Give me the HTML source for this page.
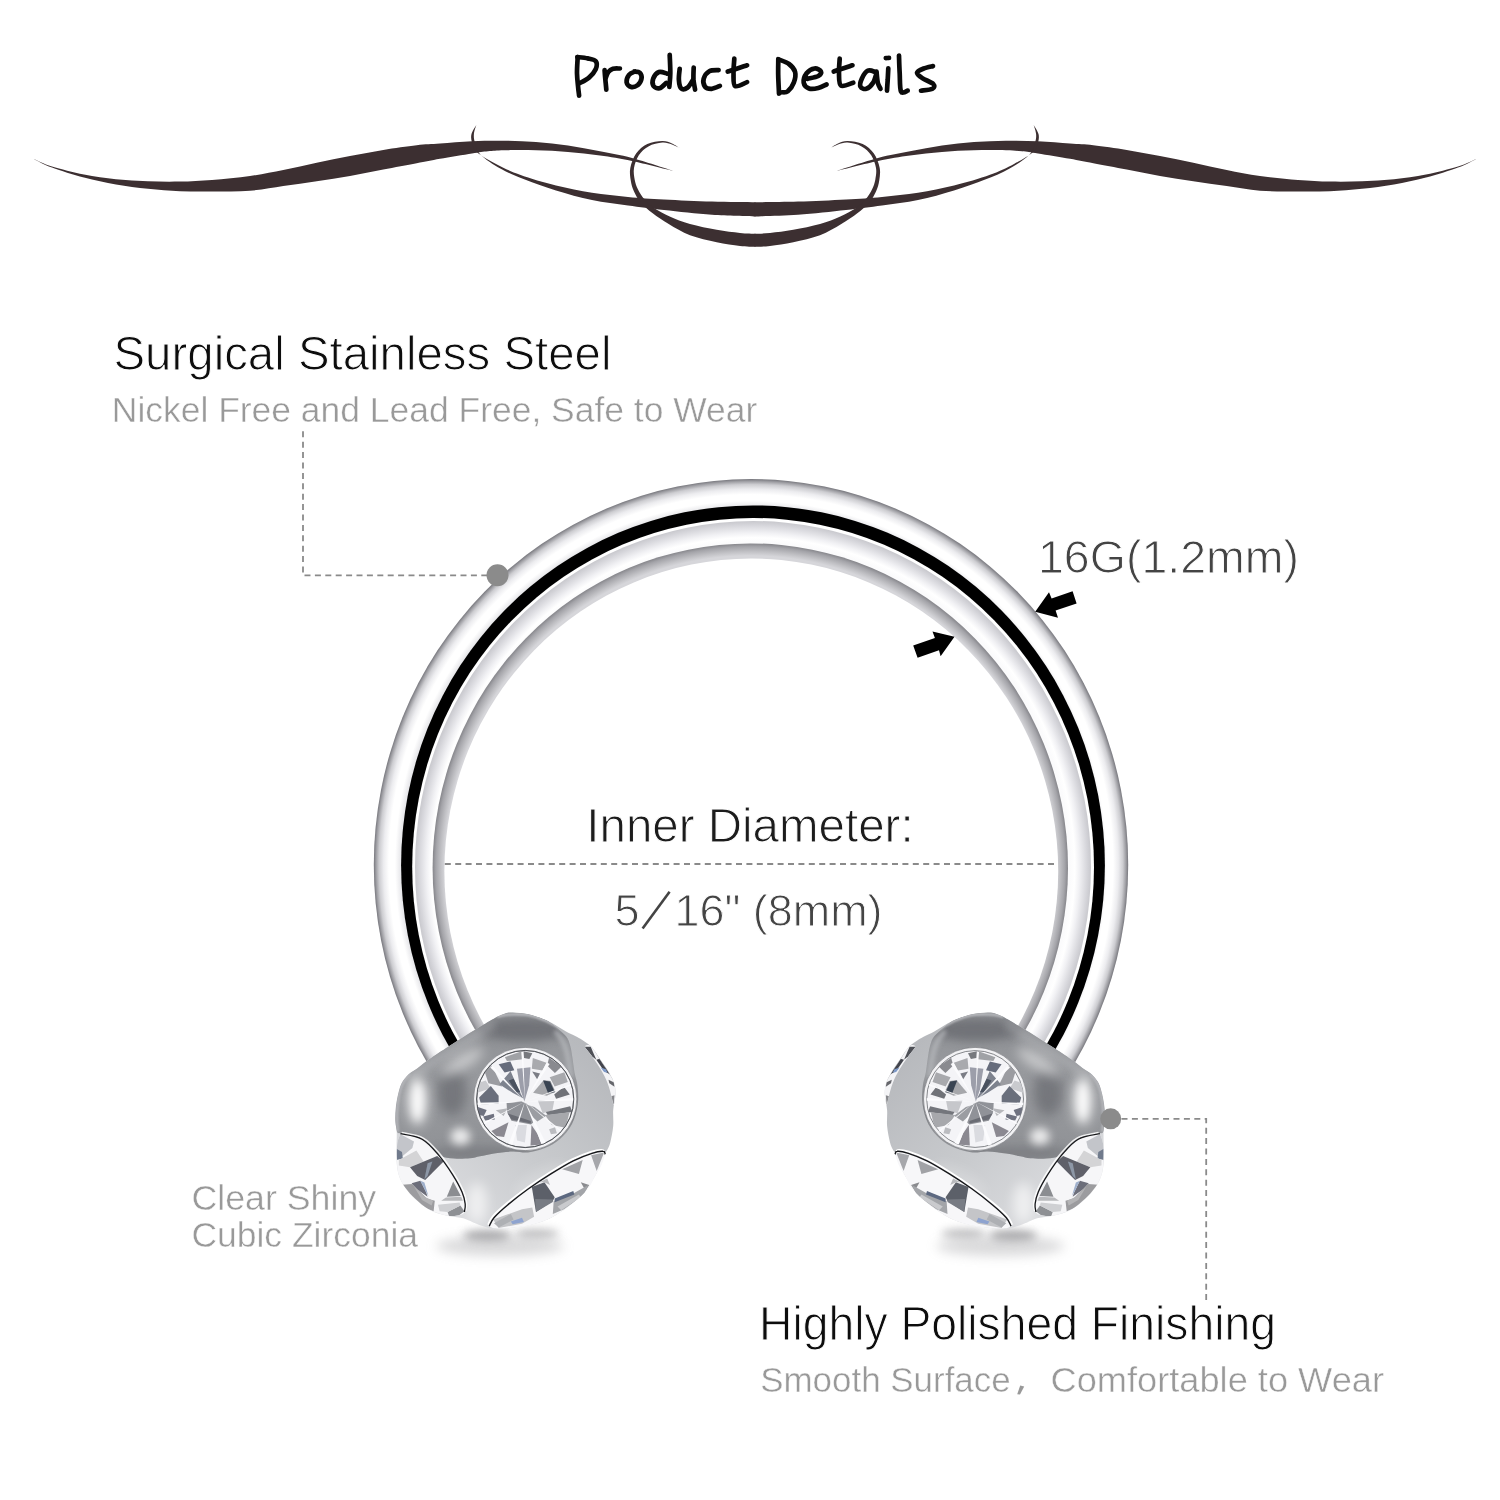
<!DOCTYPE html>
<html>
<head>
<meta charset="utf-8">
<title>Product Details</title>
<style>
html,body{margin:0;padding:0;background:#fff;}
body{width:1500px;height:1500px;overflow:hidden;position:relative;font-family:"Liberation Sans",sans-serif;}
svg{position:absolute;left:0;top:0;display:block;}
text{font-family:"Liberation Sans",sans-serif;}
</style>
</head>
<body>
<svg width="1500" height="1500" viewBox="0 0 1500 1500">
<defs>
  <filter id="blur1" x="-150%" y="-400%" width="400%" height="900%"><feGaussianBlur stdDeviation="1"/></filter>
  <filter id="blur05" x="-10%" y="-10%" width="120%" height="120%"><feGaussianBlur stdDeviation="0.45"/></filter>
  <filter id="blur2" x="-150%" y="-400%" width="400%" height="900%"><feGaussianBlur stdDeviation="2"/></filter>
  <filter id="blur4" x="-150%" y="-400%" width="400%" height="900%"><feGaussianBlur stdDeviation="4"/></filter>
  <filter id="blur6" x="-150%" y="-400%" width="400%" height="900%"><feGaussianBlur stdDeviation="6"/></filter>
  <radialGradient id="gOuter" cx="0.5" cy="0.5" r="0.5">
    <stop offset="0.930" stop-color="#e9e9ec"/>
    <stop offset="0.944" stop-color="#ffffff"/>
    <stop offset="0.960" stop-color="#ffffff"/>
    <stop offset="0.974" stop-color="#ececef"/>
    <stop offset="0.986" stop-color="#cdcdd1"/>
    <stop offset="0.994" stop-color="#a0a0a5"/>
    <stop offset="1" stop-color="#77777d"/>
  </radialGradient>
  <radialGradient id="gMid" cx="0.5" cy="0.5" r="0.5">
    <stop offset="0.938" stop-color="#fbfbfc"/>
    <stop offset="0.952" stop-color="#ffffff"/>
    <stop offset="0.966" stop-color="#f1f1f4"/>
    <stop offset="0.988" stop-color="#d6d6db"/>
    <stop offset="1" stop-color="#c8c8cd"/>
  </radialGradient>
  <radialGradient id="gIn" cx="0.5" cy="0.5" r="0.5">
    <stop offset="0.962" stop-color="#d6d6da"/>
    <stop offset="0.975" stop-color="#c0c0c4"/>
    <stop offset="0.990" stop-color="#a4a4a9"/>
    <stop offset="1" stop-color="#86868b"/>
  </radialGradient>
  <linearGradient id="gBand" gradientUnits="userSpaceOnUse" x1="440" y1="1220" x2="610" y2="1040">
    <stop offset="0" stop-color="#dddee1"/>
    <stop offset="0.45" stop-color="#c8cacd"/>
    <stop offset="1" stop-color="#b4b6ba"/>
  </linearGradient>
  <linearGradient id="gCap" gradientUnits="userSpaceOnUse" x1="470" y1="1010" x2="490" y2="1160">
    <stop offset="0" stop-color="#8a8c90"/>
    <stop offset="0.5" stop-color="#999b9f"/>
    <stop offset="1" stop-color="#8d8f93"/>
  </linearGradient>
  <clipPath id="ringClip">
    <path d="M751,865 L169,1245 L0,1245 L0,0 L1500,0 L1500,1245 L1333,1245 Z"/>
  </clipPath>
<clipPath id="ballClip"><path d="M512.7,1012.6 C516.7,1012.7 523.4,1013.1 528.7,1014.2 C534.0,1015.4 540.3,1017.7 544.7,1019.5 C549.1,1021.3 551.8,1023.0 555.3,1025.0 C558.8,1027.0 562.4,1029.6 566.0,1031.6 C569.6,1033.6 573.6,1035.1 576.7,1036.8 C579.8,1038.5 582.0,1039.8 584.5,1041.6 C587.0,1043.4 589.3,1044.4 592.0,1047.5 C594.7,1050.6 597.8,1055.8 600.7,1060.0 C603.6,1064.2 607.0,1069.0 609.3,1073.0 C611.6,1077.0 613.3,1080.3 614.3,1084.0 C615.3,1087.7 615.6,1090.7 615.4,1095.0 C615.2,1099.3 613.6,1104.8 613.2,1110.0 C612.8,1115.2 613.7,1120.7 613.2,1126.0 C612.7,1131.3 611.4,1138.0 610.4,1142.0 C609.4,1146.0 608.3,1147.9 607.2,1150.0 C606.1,1152.1 605.2,1151.8 604.0,1154.5 C602.8,1157.2 601.3,1162.8 600.0,1166.0 C598.7,1169.2 597.7,1170.9 596.0,1174.0 C594.3,1177.1 592.3,1180.8 589.6,1184.5 C586.9,1188.2 583.9,1192.5 580.0,1196.5 C576.1,1200.5 570.7,1204.8 566.0,1208.3 C561.3,1211.8 556.7,1214.8 552.0,1217.2 C547.3,1219.6 543.3,1221.2 538.0,1222.8 C532.7,1224.4 525.7,1225.6 520.0,1226.6 C514.3,1227.6 508.7,1228.3 504.0,1228.6 C499.3,1228.9 495.3,1228.9 492.0,1228.6 C488.7,1228.3 487.1,1227.6 484.0,1226.6 C480.9,1225.6 476.8,1223.9 473.3,1222.5 C469.9,1221.1 467.2,1219.3 463.3,1218.3 C459.4,1217.3 454.8,1217.3 450.0,1216.3 C445.2,1215.3 439.1,1213.9 434.8,1212.3 C430.5,1210.7 428.1,1209.3 424.4,1206.6 C420.7,1203.9 416.0,1200.0 412.4,1196.2 C408.8,1192.4 405.2,1188.0 402.8,1184.0 C400.4,1180.0 399.0,1176.0 398.0,1172.0 C397.0,1168.0 396.8,1164.3 396.6,1160.0 C396.4,1155.7 396.6,1150.8 396.6,1146.0 C396.6,1141.2 396.9,1135.3 396.7,1131.3 C396.5,1127.3 395.5,1125.9 395.3,1122.0 C395.1,1118.1 395.2,1112.7 395.7,1108.0 C396.2,1103.3 397.1,1098.2 398.1,1094.0 C399.1,1089.8 400.1,1086.1 401.8,1082.8 C403.5,1079.5 405.7,1076.9 408.3,1074.4 C410.9,1071.9 414.2,1070.4 417.7,1067.9 C421.1,1065.4 423.9,1062.8 429.0,1059.2 C434.1,1055.6 442.2,1050.4 448.4,1046.4 C454.6,1042.4 460.4,1038.7 466.0,1035.2 C471.6,1031.7 478.0,1028.0 482.0,1025.6 C486.0,1023.2 487.3,1022.4 490.0,1020.8 C492.7,1019.2 495.5,1017.4 498.0,1016.2 C500.5,1015.0 502.6,1014.0 505.0,1013.4 C507.4,1012.8 508.8,1012.5 512.7,1012.6 Z"/></clipPath>
<clipPath id="capClip"><path d="M512.7,1012.6 C516.7,1012.7 523.4,1013.1 528.7,1014.2 C534.0,1015.4 540.3,1017.4 544.7,1019.5 C549.1,1021.6 551.8,1023.9 555.3,1026.7 C558.8,1029.5 563.5,1033.1 566.0,1036.3 C568.5,1039.5 569.2,1042.2 570.3,1045.9 C571.4,1049.6 571.9,1054.3 572.6,1058.7 C573.3,1063.1 573.7,1068.0 574.5,1072.5 C575.3,1077.0 577.0,1080.8 577.5,1086.0 C578.0,1091.2 578.7,1097.7 577.8,1104.0 C576.9,1110.3 575.0,1118.2 572.0,1124.0 C569.0,1129.8 564.5,1135.0 560.0,1139.0 C555.5,1143.0 550.3,1145.8 545.0,1148.0 C539.7,1150.2 533.4,1151.9 528.0,1152.5 C522.6,1153.1 518.4,1151.3 512.7,1151.5 C507.0,1151.7 499.4,1152.7 494.0,1153.5 C488.6,1154.3 484.0,1155.5 480.0,1156.3 C476.0,1157.1 474.3,1157.9 470.0,1158.3 C465.7,1158.7 459.1,1159.1 454.0,1158.6 C448.9,1158.1 443.9,1157.7 439.6,1155.4 C435.3,1153.1 432.1,1148.1 428.0,1145.0 C423.9,1141.9 419.0,1139.0 415.0,1137.0 C411.0,1135.0 406.9,1133.8 404.0,1133.0 C401.1,1132.2 398.8,1134.3 397.4,1132.5 C395.9,1130.7 395.6,1126.1 395.3,1122.0 C395.0,1117.9 395.2,1112.7 395.7,1108.0 C396.2,1103.3 397.1,1098.2 398.1,1094.0 C399.1,1089.8 400.1,1086.1 401.8,1082.8 C403.5,1079.5 405.7,1076.9 408.3,1074.4 C410.9,1071.9 414.2,1070.4 417.7,1067.9 C421.1,1065.4 423.9,1062.8 429.0,1059.2 C434.1,1055.6 442.2,1050.4 448.4,1046.4 C454.6,1042.4 460.4,1038.7 466.0,1035.2 C471.6,1031.7 478.0,1028.0 482.0,1025.6 C486.0,1023.2 487.3,1022.4 490.0,1020.8 C492.7,1019.2 495.5,1017.4 498.0,1016.2 C500.5,1015.0 502.6,1014.0 505.0,1013.4 C507.4,1012.8 508.8,1012.5 512.7,1012.6 Z"/></clipPath>

</defs>

<g id="swashL" fill="#3c2f31">
<path d="M33.6,158.9 C36.7,160.2 43.6,163.8 52.0,166.4 C60.4,169.0 73.3,172.3 84.0,174.4 C94.7,176.5 105.3,178.0 116.0,179.2 C126.7,180.3 137.3,180.9 148.0,181.3 C158.7,181.7 169.3,181.8 180.0,181.6 C190.7,181.4 200.3,180.9 212.0,180.0 C223.7,179.1 238.1,177.7 250.0,176.0 C261.9,174.3 272.2,172.2 283.3,170.0 C294.4,167.8 305.6,165.0 316.7,162.7 C327.8,160.4 338.9,158.1 350.0,156.0 C361.1,153.9 372.2,151.8 383.3,150.0 C394.4,148.2 407.2,146.4 416.7,145.3 C426.1,144.2 430.8,144.3 440.0,143.6 C449.2,142.9 461.3,141.7 472.0,141.2 C482.7,140.7 493.3,140.6 504.0,140.7 C514.7,140.8 525.3,141.2 536.0,142.0 C546.7,142.8 557.3,143.9 568.0,145.5 C578.7,147.1 589.3,149.2 600.0,151.3 C610.7,153.4 619.8,154.8 632.0,158.0 C644.2,161.2 666.2,168.7 673.0,170.8 C666.2,169.2 644.2,163.4 632.0,160.9 C619.8,158.4 610.7,157.1 600.0,155.6 C589.3,154.1 578.7,152.8 568.0,151.9 C557.3,151.0 546.7,150.6 536.0,150.3 C525.3,150.0 512.0,150.1 504.0,150.3 C496.0,150.5 493.3,150.8 488.0,151.3 C482.7,151.8 480.0,152.2 472.0,153.5 C464.0,154.8 449.2,157.2 440.0,158.8 C430.8,160.4 426.1,161.5 416.7,163.3 C407.2,165.1 394.4,167.5 383.3,169.6 C372.2,171.7 361.1,174.1 350.0,176.0 C338.9,177.9 327.8,179.6 316.7,181.3 C305.6,183.0 294.4,184.4 283.3,186.0 C272.2,187.6 261.9,189.8 250.0,190.7 C238.1,191.6 223.7,191.4 212.0,191.5 C200.3,191.6 190.7,191.6 180.0,191.2 C169.3,190.8 158.7,189.9 148.0,188.8 C137.3,187.7 126.7,186.4 116.0,184.5 C105.3,182.6 94.7,180.4 84.0,177.6 C73.3,174.8 60.4,170.6 52.0,167.5 C43.6,164.4 36.7,160.3 33.6,158.9 Z"/>
<path d="M476.3,124.9 C475.5,126.4 472.2,131.1 471.5,134.0 C470.8,136.9 471.1,139.4 472.0,142.4 C472.9,145.4 472.8,148.4 476.8,152.0 C480.8,155.6 488.8,160.2 496.0,164.0 C503.2,167.8 510.0,171.2 520.0,174.8 C530.0,178.4 544.0,182.6 556.0,185.6 C568.0,188.6 580.0,190.9 592.0,192.8 C604.0,194.7 616.0,195.8 628.0,196.9 C640.0,198.0 650.0,198.7 664.0,199.5 C678.0,200.3 696.8,201.1 712.0,201.6 C727.2,202.1 748.2,202.2 755.5,202.3 L755.5,216.5 C748.2,216.2 727.2,215.9 712.0,214.8 C696.8,213.7 678.0,211.6 664.0,210.0 C650.0,208.4 640.0,207.2 628.0,205.5 C616.0,203.8 604.0,202.5 592.0,200.0 C580.0,197.5 567.2,193.8 556.0,190.4 C544.8,187.0 534.0,183.2 524.8,179.6 C515.6,176.0 508.2,173.0 500.8,168.8 C493.4,164.6 484.7,158.8 480.4,154.4 C476.1,150.0 476.0,145.8 474.9,142.4 C473.8,139.0 473.7,136.9 473.9,134.0 C474.1,131.1 475.9,126.4 476.3,124.9 Z"/>
<path d="M679.9,148.3 C678.6,147.5 674.9,144.6 672.0,143.4 C669.1,142.2 666.4,140.9 662.3,141.0 C658.2,141.1 651.7,141.9 647.3,144.0 C642.9,146.1 638.9,149.6 636.1,153.6 C633.3,157.6 631.2,163.5 630.3,168.0 C629.4,172.5 630.2,176.9 630.8,180.8 C631.4,184.7 632.3,187.8 634.0,191.5 C635.7,195.2 637.8,199.1 640.9,202.7 C644.0,206.3 648.1,209.8 652.7,213.3 C657.3,216.9 662.5,220.3 668.7,224.0 C674.9,227.7 682.0,232.2 690.0,235.2 C698.0,238.2 708.4,240.4 716.7,242.2 C725.0,244.0 733.5,245.2 740.0,246.0 C746.5,246.8 752.9,246.7 755.5,246.8 L755.5,233.8 C752.9,233.7 746.5,233.7 740.0,233.0 C733.5,232.3 725.0,231.3 716.7,229.8 C708.4,228.3 697.8,226.2 690.0,224.0 C682.2,221.8 675.6,219.1 669.7,216.5 C663.8,213.9 659.1,211.4 654.8,208.5 C650.5,205.6 646.9,202.1 644.1,198.9 C641.3,195.7 639.5,192.5 637.9,189.3 C636.3,186.1 635.4,183.2 634.7,179.7 C634.1,176.1 633.3,172.1 634.0,168.0 C634.7,163.9 636.4,158.8 638.8,155.2 C641.2,151.6 644.5,148.5 648.4,146.4 C652.3,144.3 658.4,142.9 662.3,142.6 C666.2,142.3 669.1,143.6 672.0,144.6 C674.9,145.6 678.6,147.7 679.9,148.3 Z"/>
</g>
<use href="#swashL" transform="translate(1510.0,0) scale(-1,1)"/>
<g fill="none" stroke="#0a0a0a" stroke-width="4.7" stroke-linecap="round" stroke-linejoin="round">
<path d="M577.7,57.1 C577.6,59.8 576.9,68.4 577.0,73.3 C577.1,78.3 577.7,82.9 578.1,86.7 C578.4,90.4 579.0,94.2 579.1,95.7"/>
<path d="M577.3,57.1 C579.0,57.3 584.6,57.7 587.7,58.4 C590.8,59.1 594.6,59.5 595.9,61.3 C597.3,63.2 596.8,66.6 595.7,69.3 C594.5,72.0 591.7,75.3 589.0,77.6 C586.3,79.9 581.0,82.4 579.4,83.3"/>
<path d="M604.6,70.1 C604.7,71.8 605.1,76.8 605.4,80.0 C605.7,83.2 606.2,88.0 606.3,89.6"/>
<path d="M605.7,78.0 C606.1,77.0 607.1,73.5 608.3,72.0 C609.6,70.5 611.1,69.4 613.0,68.8 C614.9,68.2 618.8,68.6 619.9,68.5"/>
<path d="M635.0,71.5 C634.0,72.0 630.4,73.1 629.0,74.9 C627.6,76.8 626.3,80.4 626.6,82.4 C626.9,84.4 629.2,86.5 631.0,86.9 C632.8,87.4 635.9,86.4 637.7,85.1 C639.4,83.7 641.2,80.7 641.5,78.7 C641.9,76.6 640.9,73.9 639.7,72.7 C638.5,71.5 635.2,71.7 634.3,71.5"/>
<path d="M667.0,73.6 C665.7,73.3 661.3,71.2 659.0,72.0 C656.7,72.8 654.2,76.1 653.3,78.4 C652.4,80.7 652.5,84.4 653.5,86.0 C654.6,87.6 657.3,88.8 659.4,88.3 C661.5,87.8 665.2,83.8 666.3,82.9"/>
<path d="M669.7,54.9 C669.8,58.0 670.4,68.0 670.3,73.3 C670.3,78.7 669.4,84.7 669.3,86.9"/>
<path d="M679.7,68.8 C679.5,70.7 678.6,76.7 678.9,80.0 C679.1,83.3 679.8,87.3 681.3,88.5 C682.7,89.8 685.7,88.9 687.7,87.5 C689.6,86.0 692.1,81.2 693.0,80.0"/>
<path d="M693.7,67.5 C693.6,69.6 693.3,76.3 693.5,80.0 C693.8,83.7 694.9,88.0 695.1,89.6"/>
<path d="M718.6,70.1 C717.0,70.3 711.8,69.8 709.3,71.2 C706.8,72.6 704.4,76.1 703.7,78.7 C703.0,81.2 703.7,85.0 705.0,86.7 C706.3,88.4 709.2,88.9 711.7,88.8 C714.2,88.7 718.6,86.4 719.9,85.9"/>
<path d="M734.3,58.7 C734.2,61.1 733.4,68.8 733.5,73.3 C733.7,77.9 732.9,84.7 735.1,86.1 C737.4,87.6 745.1,82.8 747.1,82.1"/>
<path d="M727.7,71.5 C730.9,70.4 743.9,66.4 747.1,65.3"/>
<path d="M778.3,59.3 C778.3,61.9 778.1,69.0 778.2,74.7 C778.3,80.4 778.9,90.4 779.0,93.6"/>
<path d="M778.3,59.3 C780.1,60.1 786.2,61.9 789.0,64.0 C791.8,66.1 794.3,68.9 795.1,72.0 C795.9,75.1 795.0,79.5 793.8,82.7 C792.6,85.9 789.9,89.6 787.9,91.2 C786.0,92.8 783.0,92.1 782.1,92.3"/>
<path d="M807.4,78.9 C809.2,78.4 816.1,77.2 818.3,76.0 C820.6,74.8 821.6,72.7 821.0,71.5 C820.4,70.2 817.0,68.2 814.6,68.5 C812.2,68.8 808.4,71.0 806.6,73.3 C804.8,75.7 803.3,80.1 803.7,82.7 C804.1,85.2 806.6,87.6 809.0,88.5 C811.4,89.4 815.4,88.7 818.3,88.0 C821.3,87.3 825.2,85.1 826.6,84.5"/>
<path d="M839.7,58.7 C839.6,61.1 838.8,68.8 839.0,73.3 C839.2,77.8 838.6,84.0 841.0,85.6 C843.4,87.2 851.2,83.2 853.3,82.7"/>
<path d="M833.7,71.5 C836.8,70.4 849.3,66.4 852.5,65.3"/>
<path d="M875.9,72.3 C874.6,72.0 870.3,69.6 867.9,70.7 C865.6,71.7 863.0,76.0 861.8,78.7 C860.6,81.3 859.7,85.0 860.5,86.7 C861.2,88.4 864.2,89.4 866.3,88.8 C868.4,88.2 871.3,85.5 873.0,82.9 C874.7,80.4 875.9,74.9 876.5,73.3"/>
<path d="M876.5,71.5 C876.7,73.3 877.1,79.8 877.8,82.7 C878.5,85.6 880.0,87.8 880.5,88.8"/>
<path d="M888.3,68.3 C888.2,70.2 887.9,76.3 887.7,80.0 C887.4,83.7 887.1,88.9 887.0,90.7"/>
<path d="M885.8,58.1 C886.3,58.1 888.5,57.9 889.0,57.9"/>
<path d="M899.0,55.5 C899.1,58.4 899.3,67.3 899.7,73.3 C900.0,79.3 899.7,88.6 901.0,91.5 C902.3,94.4 906.6,90.8 907.7,90.7"/>
<path d="M933.0,66.1 C931.4,66.5 926.3,67.4 923.7,68.5 C921.0,69.6 917.2,71.2 917.0,72.8 C916.8,74.4 919.6,76.3 922.3,78.1 C925.0,80.0 931.6,82.2 933.3,84.0 C935.0,85.8 934.5,87.7 932.5,88.8 C930.4,89.9 922.9,90.4 921.0,90.7"/>
</g>

<!-- RING -->
<g id="ring" clip-path="url(#ringClip)">
  <ellipse cx="751" cy="864.9" rx="377.2" ry="385.8" fill="url(#gOuter)"/>
  <ellipse cx="753" cy="865.3" rx="351.9" ry="359.9" fill="#000"/>
  <ellipse cx="753.1" cy="867" rx="340.9" ry="349" fill="#fff"/>
  <ellipse cx="753" cy="867" rx="338" ry="346" fill="url(#gMid)"/>
  <ellipse cx="750.3" cy="867.8" rx="317.7" ry="324.4" fill="url(#gIn)"/>
</g>
<ellipse cx="751.3" cy="871.2" rx="306.9" ry="312.6" fill="#fff"/>

<!-- BALLS -->
<g id="ballL">
<ellipse cx="487" cy="1235.5" rx="24" ry="5.5" fill="#8e8e91" opacity="0.75" filter="url(#blur4)"/>
<ellipse cx="537" cy="1233.5" rx="22" ry="4.5" fill="#9c9c9f" opacity="0.65" filter="url(#blur4)"/>
<ellipse cx="500" cy="1246" rx="64" ry="10" fill="#a6a6a9" opacity="0.42" filter="url(#blur6)"/>
<path d="M512.7,1012.6 C516.7,1012.7 523.4,1013.1 528.7,1014.2 C534.0,1015.4 540.3,1017.7 544.7,1019.5 C549.1,1021.3 551.8,1023.0 555.3,1025.0 C558.8,1027.0 562.4,1029.6 566.0,1031.6 C569.6,1033.6 573.6,1035.1 576.7,1036.8 C579.8,1038.5 582.0,1039.8 584.5,1041.6 C587.0,1043.4 589.3,1044.4 592.0,1047.5 C594.7,1050.6 597.8,1055.8 600.7,1060.0 C603.6,1064.2 607.0,1069.0 609.3,1073.0 C611.6,1077.0 613.3,1080.3 614.3,1084.0 C615.3,1087.7 615.6,1090.7 615.4,1095.0 C615.2,1099.3 613.6,1104.8 613.2,1110.0 C612.8,1115.2 613.7,1120.7 613.2,1126.0 C612.7,1131.3 611.4,1138.0 610.4,1142.0 C609.4,1146.0 608.3,1147.9 607.2,1150.0 C606.1,1152.1 605.2,1151.8 604.0,1154.5 C602.8,1157.2 601.3,1162.8 600.0,1166.0 C598.7,1169.2 597.7,1170.9 596.0,1174.0 C594.3,1177.1 592.3,1180.8 589.6,1184.5 C586.9,1188.2 583.9,1192.5 580.0,1196.5 C576.1,1200.5 570.7,1204.8 566.0,1208.3 C561.3,1211.8 556.7,1214.8 552.0,1217.2 C547.3,1219.6 543.3,1221.2 538.0,1222.8 C532.7,1224.4 525.7,1225.6 520.0,1226.6 C514.3,1227.6 508.7,1228.3 504.0,1228.6 C499.3,1228.9 495.3,1228.9 492.0,1228.6 C488.7,1228.3 487.1,1227.6 484.0,1226.6 C480.9,1225.6 476.8,1223.9 473.3,1222.5 C469.9,1221.1 467.2,1219.3 463.3,1218.3 C459.4,1217.3 454.8,1217.3 450.0,1216.3 C445.2,1215.3 439.1,1213.9 434.8,1212.3 C430.5,1210.7 428.1,1209.3 424.4,1206.6 C420.7,1203.9 416.0,1200.0 412.4,1196.2 C408.8,1192.4 405.2,1188.0 402.8,1184.0 C400.4,1180.0 399.0,1176.0 398.0,1172.0 C397.0,1168.0 396.8,1164.3 396.6,1160.0 C396.4,1155.7 396.6,1150.8 396.6,1146.0 C396.6,1141.2 396.9,1135.3 396.7,1131.3 C396.5,1127.3 395.5,1125.9 395.3,1122.0 C395.1,1118.1 395.2,1112.7 395.7,1108.0 C396.2,1103.3 397.1,1098.2 398.1,1094.0 C399.1,1089.8 400.1,1086.1 401.8,1082.8 C403.5,1079.5 405.7,1076.9 408.3,1074.4 C410.9,1071.9 414.2,1070.4 417.7,1067.9 C421.1,1065.4 423.9,1062.8 429.0,1059.2 C434.1,1055.6 442.2,1050.4 448.4,1046.4 C454.6,1042.4 460.4,1038.7 466.0,1035.2 C471.6,1031.7 478.0,1028.0 482.0,1025.6 C486.0,1023.2 487.3,1022.4 490.0,1020.8 C492.7,1019.2 495.5,1017.4 498.0,1016.2 C500.5,1015.0 502.6,1014.0 505.0,1013.4 C507.4,1012.8 508.8,1012.5 512.7,1012.6 Z" fill="url(#gBand)"/>
<g clip-path="url(#ballClip)">
<path d="M512.7,1012.6 C516.7,1012.7 523.4,1013.1 528.7,1014.2 C534.0,1015.4 540.3,1017.4 544.7,1019.5 C549.1,1021.6 551.8,1023.9 555.3,1026.7 C558.8,1029.5 563.5,1033.1 566.0,1036.3 C568.5,1039.5 569.2,1042.2 570.3,1045.9 C571.4,1049.6 571.9,1054.3 572.6,1058.7 C573.3,1063.1 573.7,1068.0 574.5,1072.5 C575.3,1077.0 577.0,1080.8 577.5,1086.0 C578.0,1091.2 578.7,1097.7 577.8,1104.0 C576.9,1110.3 575.0,1118.2 572.0,1124.0 C569.0,1129.8 564.5,1135.0 560.0,1139.0 C555.5,1143.0 550.3,1145.8 545.0,1148.0 C539.7,1150.2 533.4,1151.9 528.0,1152.5 C522.6,1153.1 518.4,1151.3 512.7,1151.5 C507.0,1151.7 499.4,1152.7 494.0,1153.5 C488.6,1154.3 484.0,1155.5 480.0,1156.3 C476.0,1157.1 474.3,1157.9 470.0,1158.3 C465.7,1158.7 459.1,1159.1 454.0,1158.6 C448.9,1158.1 443.9,1157.7 439.6,1155.4 C435.3,1153.1 432.1,1148.1 428.0,1145.0 C423.9,1141.9 419.0,1139.0 415.0,1137.0 C411.0,1135.0 406.9,1133.8 404.0,1133.0 C401.1,1132.2 398.8,1134.3 397.4,1132.5 C395.9,1130.7 395.6,1126.1 395.3,1122.0 C395.0,1117.9 395.2,1112.7 395.7,1108.0 C396.2,1103.3 397.1,1098.2 398.1,1094.0 C399.1,1089.8 400.1,1086.1 401.8,1082.8 C403.5,1079.5 405.7,1076.9 408.3,1074.4 C410.9,1071.9 414.2,1070.4 417.7,1067.9 C421.1,1065.4 423.9,1062.8 429.0,1059.2 C434.1,1055.6 442.2,1050.4 448.4,1046.4 C454.6,1042.4 460.4,1038.7 466.0,1035.2 C471.6,1031.7 478.0,1028.0 482.0,1025.6 C486.0,1023.2 487.3,1022.4 490.0,1020.8 C492.7,1019.2 495.5,1017.4 498.0,1016.2 C500.5,1015.0 502.6,1014.0 505.0,1013.4 C507.4,1012.8 508.8,1012.5 512.7,1012.6 Z" fill="url(#gCap)"/>
<g clip-path="url(#capClip)">
<ellipse cx="524" cy="1030" rx="46" ry="11" fill="#5f6166" opacity="0.62" filter="url(#blur4)"/>
<ellipse cx="452" cy="1092" rx="15" ry="24" fill="#63656b" opacity="0.65" filter="url(#blur6)"/>
<path d="M555,1031 C565,1040 569,1054 570.5,1078" stroke="#b9bbbf" stroke-width="5" fill="none" opacity="0.75" filter="url(#blur2)"/>
<ellipse cx="573" cy="1105" rx="6" ry="22" fill="#696b70" opacity="0.5" filter="url(#blur4)"/>
<ellipse cx="478" cy="1153" rx="50" ry="7" fill="#6f7176" opacity="0.5" filter="url(#blur4)"/>
<path d="M409,1080 C420,1068 450,1052 494,1024" stroke="#d4d5d8" stroke-width="8" fill="none" opacity="0.35" filter="url(#blur4)"/>
<ellipse cx="417.5" cy="1101" rx="12" ry="27" fill="#ffffff" opacity="0.4" filter="url(#blur6)"/>
<ellipse cx="417.5" cy="1101" rx="6.5" ry="20" fill="#ffffff" opacity="0.95" filter="url(#blur4)"/>
<ellipse cx="460.5" cy="1136.5" rx="10" ry="8.5" fill="#ffffff" opacity="0.8" filter="url(#blur4)"/>
<ellipse cx="462" cy="1062" rx="25" ry="7" fill="#ffffff" opacity="0.5" filter="url(#blur6)" transform="rotate(-32 462 1062)"/>
<path d="M497,1016.8 C505,1014.2 520,1013.6 529,1015 C540,1017 552,1022.6 566,1032.4" stroke="#c6c7cb" stroke-width="2.4" fill="none" opacity="0.9" filter="url(#blur1)"/>
<path d="M398,1132 C396.4,1122 396.6,1108 399,1094 C401,1086 405,1078 410,1074" stroke="#c2c3c7" stroke-width="2.2" fill="none" opacity="0.8" filter="url(#blur1)"/>
</g>
<ellipse cx="477" cy="1203" rx="10" ry="20" fill="#ffffff" opacity="0.6" filter="url(#blur6)"/>
<ellipse cx="540" cy="1180" rx="30" ry="10" fill="#ffffff" opacity="0.18" filter="url(#blur6)" transform="rotate(-30 540 1180)"/>
</g>
<clipPath id="lgClip"><path d="M400.4,1133.6 C404.0,1134.5 415.7,1135.7 422.0,1139.2 C428.3,1142.7 432.9,1148.5 438.0,1154.4 C443.1,1160.3 448.4,1168.1 452.4,1174.4 C456.4,1180.7 459.9,1187.1 462.0,1192.0 C464.1,1196.9 464.8,1200.7 465.2,1204.0 C465.6,1207.3 464.5,1210.7 464.4,1212.0 C464.0,1212.4 464.4,1213.7 462.0,1214.4 C459.6,1215.1 454.5,1216.4 450.0,1216.0 C445.5,1215.6 439.1,1213.6 434.8,1212.0 C430.5,1210.4 428.1,1209.1 424.4,1206.4 C420.7,1203.7 416.0,1199.7 412.4,1196.0 C408.8,1192.3 405.2,1188.0 402.8,1184.0 C400.4,1180.0 399.0,1176.0 398.0,1172.0 C397.0,1168.0 397.2,1164.7 397.0,1160.0 C396.9,1155.3 396.6,1148.4 397.2,1144.0 C397.8,1139.6 399.9,1135.3 400.4,1133.6 Z"/></clipPath>
<path d="M400.4,1133.6 C404.0,1134.5 415.7,1135.7 422.0,1139.2 C428.3,1142.7 432.9,1148.5 438.0,1154.4 C443.1,1160.3 448.4,1168.1 452.4,1174.4 C456.4,1180.7 459.9,1187.1 462.0,1192.0 C464.1,1196.9 464.8,1200.7 465.2,1204.0 C465.6,1207.3 464.5,1210.7 464.4,1212.0 C464.0,1212.4 464.4,1213.7 462.0,1214.4 C459.6,1215.1 454.5,1216.4 450.0,1216.0 C445.5,1215.6 439.1,1213.6 434.8,1212.0 C430.5,1210.4 428.1,1209.1 424.4,1206.4 C420.7,1203.7 416.0,1199.7 412.4,1196.0 C408.8,1192.3 405.2,1188.0 402.8,1184.0 C400.4,1180.0 399.0,1176.0 398.0,1172.0 C397.0,1168.0 397.2,1164.7 397.0,1160.0 C396.9,1155.3 396.6,1148.4 397.2,1144.0 C397.8,1139.6 399.9,1135.3 400.4,1133.6 Z" fill="#f6f6f8"/>
<g clip-path="url(#lgClip)"><g filter="url(#blur05)">
<path d="M396.4,1132.0 L414.0,1141.6 L412.4,1148.0 L399.6,1158.4 L396.4,1158.4 Z" fill="#c3c5ca"/>
<path d="M396.4,1148.8 L402.0,1152.0 L402.8,1158.4 L396.4,1160.0 Z" fill="#6f7a8c"/>
<path d="M398.8,1160.0 L416.4,1150.4 L423.6,1161.6 L410.0,1167.2 L398.8,1165.6 Z" fill="#d4d4d6"/>
<path d="M410.0,1167.2 L437.2,1156.0 L443.6,1161.6 L425.2,1180.0 L417.2,1176.0 Z" fill="#5e6069"/>
<path d="M427.6,1163.2 L432.4,1161.6 L427.6,1176.0 L424.4,1179.2 Z" fill="#8d97a6"/>
<path d="M411.6,1183.2 L420.4,1180.8 L426.0,1192.0 L427.6,1196.8 L416.4,1188.8 Z" fill="#6c6e7a"/>
<path d="M420.4,1180.8 L424.4,1182.4 L428.4,1196.0 L426.0,1192.0 Z" fill="#9fb0cc"/>
<path d="M402.0,1184.8 L412.4,1184.0 L426.8,1198.4 L434.8,1200.8 L433.6,1211.2 L423.6,1207.2 L410.0,1196.8 Z" fill="#9c9c9f"/>
<path d="M414.0,1186.4 L424.4,1196.8 L433.2,1200.8 L431.6,1205.6 L422.0,1200.0 Z" fill="#b4b4b6"/>
<path d="M453.2,1181.6 L460.8,1196.0 L446.8,1196.8 Z" fill="#8b8d91"/>
<path d="M446.0,1197.6 L461.2,1196.8 L462.8,1200.8 L441.2,1200.8 Z" fill="#b9babd"/>
<path d="M447.6,1212.0 L460.4,1205.6 L464.4,1211.2 L458.8,1215.6 L449.2,1216.4 Z" fill="#8e9094"/>
<path d="M438.0,1204.8 L459.6,1202.4 L460.4,1205.6 L447.6,1212.0 L439.6,1211.2 Z" fill="#cfd0d3"/>
</g></g>
<path d="M400.4,1133.6 C404.0,1134.5 415.7,1135.7 422.0,1139.2 C428.3,1142.7 432.9,1148.5 438.0,1154.4 C443.1,1160.3 448.4,1168.1 452.4,1174.4 C456.4,1180.7 459.9,1187.1 462.0,1192.0 C464.1,1196.9 464.8,1200.7 465.2,1204.0 C465.6,1207.3 464.5,1210.7 464.4,1212.0" fill="none" stroke="#ffffff" stroke-width="1.6" opacity="0.85" transform="translate(1.3,-1.1)"/>
<path d="M400.4,1133.6 C404.0,1134.5 415.7,1135.7 422.0,1139.2 C428.3,1142.7 432.9,1148.5 438.0,1154.4 C443.1,1160.3 448.4,1168.1 452.4,1174.4 C456.4,1180.7 459.9,1187.1 462.0,1192.0 C464.1,1196.9 464.8,1200.7 465.2,1204.0 C465.6,1207.3 464.5,1210.7 464.4,1212.0" fill="none" stroke="#16171a" stroke-width="1.3"/>
<clipPath id="bgClip"><path d="M489.3,1226.1 C490.1,1224.7 490.9,1221.3 494.0,1217.7 C497.1,1214.2 502.2,1209.5 508.0,1204.7 C513.8,1199.8 521.4,1193.9 528.5,1188.8 C535.7,1183.7 543.5,1178.5 550.9,1173.9 C558.4,1169.2 566.5,1164.2 573.3,1160.8 C580.2,1157.4 587.0,1154.9 592.0,1153.3 C597.0,1151.7 601.0,1151.1 603.2,1151.3 C605.4,1151.4 604.9,1153.8 605.3,1154.3 C604.6,1156.1 603.1,1161.7 601.3,1165.5 C599.6,1169.2 597.1,1172.6 594.8,1176.7 C592.5,1180.7 590.9,1185.4 587.3,1189.7 C583.8,1194.1 578.0,1198.9 573.3,1202.8 C568.7,1206.7 564.0,1210.1 559.3,1213.1 C554.7,1216.0 550.8,1218.4 545.3,1220.5 C539.9,1222.6 532.9,1224.4 526.7,1225.7 C520.4,1226.9 513.4,1227.8 508.0,1228.2 C502.6,1228.6 497.1,1228.5 494.0,1228.2 C490.9,1227.8 490.1,1226.5 489.3,1226.1 Z"/></clipPath>
<path d="M489.3,1226.1 C490.1,1224.7 490.9,1221.3 494.0,1217.7 C497.1,1214.2 502.2,1209.5 508.0,1204.7 C513.8,1199.8 521.4,1193.9 528.5,1188.8 C535.7,1183.7 543.5,1178.5 550.9,1173.9 C558.4,1169.2 566.5,1164.2 573.3,1160.8 C580.2,1157.4 587.0,1154.9 592.0,1153.3 C597.0,1151.7 601.0,1151.1 603.2,1151.3 C605.4,1151.4 604.9,1153.8 605.3,1154.3 C604.6,1156.1 603.1,1161.7 601.3,1165.5 C599.6,1169.2 597.1,1172.6 594.8,1176.7 C592.5,1180.7 590.9,1185.4 587.3,1189.7 C583.8,1194.1 578.0,1198.9 573.3,1202.8 C568.7,1206.7 564.0,1210.1 559.3,1213.1 C554.7,1216.0 550.8,1218.4 545.3,1220.5 C539.9,1222.6 532.9,1224.4 526.7,1225.7 C520.4,1226.9 513.4,1227.8 508.0,1228.2 C502.6,1228.6 497.1,1228.5 494.0,1228.2 C490.9,1227.8 490.1,1226.5 489.3,1226.1 Z" fill="#f7f7f9"/>
<g clip-path="url(#bgClip)"><g filter="url(#blur05)">
<path d="M531.8,1186.9 L544.4,1182.3 L554.7,1197.2 L552.8,1200.9 L536.0,1212.1 Z" fill="#5c6069"/>
<path d="M535.1,1199.1 L552.8,1199.5 L552.8,1201.9 L536.0,1212.1 Z" fill="#787c84"/>
<path d="M562.1,1169.2 L582.7,1159.9 L578.9,1173.9 Z" fill="#a1a2a6"/>
<path d="M591.1,1155.2 L604.1,1152.4 L596.7,1171.1 Z" fill="#a6a7ab"/>
<path d="M580.8,1182.3 L589.2,1185.1 L585.5,1190.7 Z" fill="#8a8b8f"/>
<path d="M553.7,1200.9 L573.3,1193.5 L588.3,1185.1 L583.6,1195.3 L564.0,1209.3 L552.8,1214.0 Z" fill="#a3a5a9"/>
<path d="M554.7,1198.6 L573.3,1191.1 L574.3,1194.4 L554.7,1202.3 Z" fill="#5c6880"/>
<path d="M557.5,1206.5 L578.9,1194.4 L580.8,1197.2 L561.2,1210.3 Z" fill="#c9cacd"/>
<path d="M539.7,1182.3 L547.2,1178.5 L550.0,1185.1 L544.4,1182.3 Z" fill="#b9babd"/>
<path d="M493.1,1219.6 L522.0,1209.3 L532.3,1207.5 L534.1,1216.8 L522.0,1223.8 L498.7,1228.0 Z" fill="#c4c5c8"/>
<path d="M510.8,1221.5 L522.0,1217.7 L523.9,1221.9 L512.7,1224.3 Z" fill="#8ea3cf"/>
<path d="M494.0,1223.3 L510.8,1214.0 L513.6,1219.6 L498.7,1227.5 Z" fill="#aeb0b4"/>
</g></g>
<path d="M489.3,1226.1 C490.1,1224.7 490.9,1221.3 494.0,1217.7 C497.1,1214.2 502.2,1209.5 508.0,1204.7 C513.8,1199.8 521.4,1193.9 528.5,1188.8 C535.7,1183.7 543.5,1178.5 550.9,1173.9 C558.4,1169.2 566.5,1164.2 573.3,1160.8 C580.2,1157.4 587.0,1154.9 592.0,1153.3 C597.0,1151.7 601.0,1151.1 603.2,1151.3 C605.4,1151.4 604.9,1153.8 605.3,1154.3" fill="none" stroke="#ffffff" stroke-width="1.8" transform="translate(-1.2,-1.4)"/>
<path d="M489.3,1226.1 C490.1,1224.7 490.9,1221.3 494.0,1217.7 C497.1,1214.2 502.2,1209.5 508.0,1204.7 C513.8,1199.8 521.4,1193.9 528.5,1188.8 C535.7,1183.7 543.5,1178.5 550.9,1173.9 C558.4,1169.2 566.5,1164.2 573.3,1160.8 C580.2,1157.4 587.0,1154.9 592.0,1153.3 C597.0,1151.7 601.0,1151.1 603.2,1151.3 C605.4,1151.4 604.9,1153.8 605.3,1154.3" fill="none" stroke="#16171a" stroke-width="1.4"/>
<path d="M585.1,1046.8 C584.9,1045.1 588.5,1044.1 591.1,1046.4 C593.7,1048.7 597.6,1056.1 600.7,1060.7 C603.7,1065.2 607.0,1069.8 609.3,1073.7 C611.6,1077.6 613.5,1080.6 614.5,1084.1 C615.6,1087.5 615.7,1091.0 615.6,1094.5 C615.4,1097.9 614.3,1104.3 613.7,1104.9 C613.1,1105.4 612.9,1101.5 611.9,1097.9 C610.9,1094.3 609.5,1088.0 607.6,1083.2 C605.7,1078.4 603.3,1073.8 600.7,1069.3 C598.1,1064.9 594.6,1060.1 592.0,1056.3 C589.4,1052.6 585.2,1048.5 585.1,1046.8 Z" fill="#f4f4f6"/>
<clipPath id="svClip"><path d="M585.1,1046.8 C584.9,1045.1 588.5,1044.1 591.1,1046.4 C593.7,1048.7 597.6,1056.1 600.7,1060.7 C603.7,1065.2 607.0,1069.8 609.3,1073.7 C611.6,1077.6 613.5,1080.6 614.5,1084.1 C615.6,1087.5 615.7,1091.0 615.6,1094.5 C615.4,1097.9 614.3,1104.3 613.7,1104.9 C613.1,1105.4 612.9,1101.5 611.9,1097.9 C610.9,1094.3 609.5,1088.0 607.6,1083.2 C605.7,1078.4 603.3,1073.8 600.7,1069.3 C598.1,1064.9 594.6,1060.1 592.0,1056.3 C589.4,1052.6 585.2,1048.5 585.1,1046.8 Z"/></clipPath>
<g clip-path="url(#svClip)">
<path d="M584.6,1046.8 L590.7,1046.8 L596.3,1059.8 L592.0,1056.3 Z" fill="#4e5056"/>
<path d="M596.3,1059.8 L602.4,1058.1 L610.2,1074.5 L604.1,1071.1 Z" fill="#43454d"/>
<path d="M600.7,1067.6 L605.9,1069.3 L607.6,1072.8 L604.1,1071.9 Z" fill="#7f9ac8"/>
<path d="M608.5,1079.7 L613.7,1082.3 L614.5,1086.7 L609.3,1083.2 Z" fill="#66676c"/>
<path d="M611.1,1096.2 L614.5,1095.3 L613.7,1104.9 L611.9,1099.7 Z" fill="#88898d"/>
</g>
<circle cx="525.2" cy="1099.0" r="51.6" fill="#f2f2f4"/>
<circle cx="525.2" cy="1099.0" r="51.6" fill="none" stroke="#6d6f74" stroke-width="0.8" opacity="0.7"/>
<clipPath id="cgClip"><circle cx="525.2" cy="1099.0" r="48.4"/></clipPath>
<circle cx="525.2" cy="1099.0" r="48.4" fill="#f4f4f7" stroke="#55575c" stroke-width="0.7"/>
<g clip-path="url(#cgClip)">
<path d="M498.7,1064.3 L510.4,1061.4 L514.3,1070.2 L504.6,1072.6 Z" fill="#666c7c"/>
<path d="M504.9,1057.2 L522.5,1050.9 L522.5,1059.2 L506.9,1061.1 Z" fill="#a0a2a6"/>
<path d="M523.5,1051.3 L532.3,1053.2 L529.4,1059.1 L524.0,1058.1 Z" fill="#77797e"/>
<path d="M532.8,1057.9 L546.5,1062.8 L542.5,1070.6 L531.8,1068.7 Z" fill="#a9aaae"/>
<path d="M549.1,1057.8 L561.7,1066.6 L554.9,1072.9 L547.1,1065.6 Z" fill="#898a8f"/>
<path d="M549.7,1077.2 L564.3,1072.3 L567.8,1082.1 L554.6,1086.5 Z" fill="#a8a9ad"/>
<path d="M484.5,1071.0 L491.8,1065.6 L502.1,1086.6 L488.4,1083.2 Z" fill="#9b9ca1"/>
<path d="M474.0,1084.4 L485.7,1080.5 L490.6,1088.3 L476.0,1093.2 Z" fill="#c9cace"/>
<path d="M499.4,1084.3 L510.6,1071.1 L517.9,1088.2 L523.3,1098.5 L513.0,1093.1 Z" fill="#7d828e"/>
<path d="M508.7,1080.6 L513.6,1078.7 L520.4,1092.3 L516.5,1092.3 Z" fill="#4a5260"/>
<path d="M516.9,1068.7 L530.5,1067.3 L529.1,1085.3 L524.4,1101.4 L520.3,1089.2 Z" fill="#9c9eaa"/>
<path d="M532.2,1071.4 L540.0,1073.4 L537.1,1079.2 Z" fill="#7b7d85"/>
<path d="M533.1,1092.8 L543.8,1080.1 L550.6,1081.1 L555.5,1091.8 L546.7,1095.7 Z" fill="#a6a7ab"/>
<path d="M543.1,1080.5 L550.0,1081.4 L554.9,1092.2 L548.0,1093.1 Z" fill="#3a4452"/>
<path d="M554.2,1094.6 L563.9,1086.8 L569.8,1094.6 L556.1,1098.7 Z" fill="#707278"/>
<path d="M537.8,1100.6 L554.4,1099.7 L552.4,1110.4 L542.7,1113.3 Z" fill="#c6c7cb"/>
<path d="M545.8,1112.1 L570.2,1106.3 L572.4,1112.1 L547.8,1115.2 Z" fill="#74767c"/>
<path d="M545.1,1115.1 L569.5,1112.2 L565.6,1127.8 L551.9,1124.9 Z" fill="#a7a8ac"/>
<path d="M549.1,1129.3 L555.0,1127.3 L556.9,1133.2 L551.0,1134.2 Z" fill="#bbbcc0"/>
<path d="M506.6,1103.1 L521.3,1101.2 L527.1,1104.1 L534.0,1121.7 L531.0,1124.6 L511.5,1120.7 L507.1,1111.9 Z" fill="#909298"/>
<path d="M507.5,1113.3 L530.9,1121.1 L530.9,1123.5 L511.4,1119.6 Z" fill="#6a6c74"/>
<path d="M524.7,1104.0 L534.5,1106.9 L546.2,1115.7 L537.4,1121.5 L532.5,1116.7 Z" fill="#9b9da2"/>
<path d="M491.4,1131.1 L508.5,1122.3 L504.1,1137.0 L496.3,1136.0 Z" fill="#8b8991"/>
<path d="M531.5,1125.0 L537.4,1133.8 L541.8,1144.5 L530.5,1145.5 Z" fill="#8b8991"/>
<path d="M515.1,1124.9 L526.9,1124.9 L524.9,1142.5 L517.1,1140.5 Z" fill="#dadbe0"/>
<path d="M479.1,1097.6 L490.8,1085.9 L498.6,1095.7 L498.6,1103.5 L481.1,1104.5 Z" fill="#6a6f7c"/>
<path d="M477.9,1107.1 L486.7,1110.0 L483.8,1115.9 L478.9,1114.9 Z" fill="#6f7280"/>
<path d="M483.1,1116.6 L493.8,1113.7 L494.8,1119.6 L485.1,1120.5 Z" fill="#6f7280"/>
<path d="M495.8,1110.2 L507.5,1108.2 L503.6,1116.0 Z" fill="#b6b7bb"/>
<path d="M525.0,1101.6 L492.5,1065.4 L490.3,1067.4 Z" fill="#fbfbfd"/>
<path d="M525.0,1101.6 L523.1,1052.0 L521.3,1052.0 Z" fill="#fbfbfd"/>
<path d="M525.0,1101.6 L549.6,1064.0 L546.8,1062.4 Z" fill="#fbfbfd"/>
<path d="M525.0,1101.6 L577.1,1100.6 L576.9,1097.8 Z" fill="#fbfbfd"/>
<path d="M525.0,1101.6 L542.8,1147.4 L547.2,1145.4 Z" fill="#fbfbfd"/>
<path d="M525.0,1101.6 L507.9,1145.8 L511.7,1147.0 Z" fill="#fbfbfd"/>
<path d="M525.0,1101.6 L475.3,1102.8 L475.5,1105.2 Z" fill="#fbfbfd"/>
<path d="M525.0,1101.6 L477.4,1125.6 L478.2,1127.2 Z" fill="#fbfbfd"/>
<path d="M525.0,1101.6 L564.4,1135.1 L565.6,1133.7 Z" fill="#fbfbfd"/>
<path d="M525.0,1101.6 L571.6,1085.5 L571.2,1084.1 Z" fill="#fbfbfd"/>
</g></g>
<circle cx="525.2" cy="1099.0" r="48.6" fill="none" stroke="#3a3c42" stroke-width="0.9" opacity="0.85"/>
</g>
<use href="#ballL" transform="translate(1500.3,0) scale(-1,1)"/>

<!-- leader lines -->
<g fill="none" stroke="#8a8a8a" stroke-width="1.8" stroke-dasharray="6 4.4">
  <path d="M303,431.3 V575.4 H487"/>
  <path d="M444.8,864 H1058"/>
  <path d="M1121.5,1118.8 H1206.2 V1301"/>
</g>
<circle cx="497.5" cy="575.2" r="11" fill="#8b8b8b"/>
<circle cx="1110.7" cy="1118.8" r="10.5" fill="#8b8b8b"/>

<!-- arrows -->
<g fill="#000">
  <path d="M1035.2,611.8 L1049,592.3 L1051.6,598.6 L1072.6,591.3 L1076.6,603.4 L1055.6,610.6 L1058,617.7 Z"/>
  <path d="M954.5,636.7 L932.5,631.6 L934.9,638.1 L913.2,645.5 L917.6,657.7 L939,650.2 L940.6,656.2 Z"/>
</g>

<!-- TEXT -->
<g id="texts" style="opacity:0.999">
<text id="t1" x="113.5" y="369.5" font-size="48" fill="#0d0d0d" stroke="#ffffff" stroke-width="1.0" textLength="498.0" lengthAdjust="spacingAndGlyphs">Surgical Stainless Steel</text>
<text id="t2" x="111.8" y="421.6" font-size="35" fill="#999999" stroke="#ffffff" stroke-width="0.45" textLength="645.5" lengthAdjust="spacingAndGlyphs">Nickel Free and Lead Free, Safe to Wear</text>
<text id="t3" x="1038.0" y="573.2" font-size="47" fill="#444444" stroke="#ffffff" stroke-width="1.0" textLength="261.0" lengthAdjust="spacingAndGlyphs">16G(1.2mm)</text>
<text id="t4" x="586.3" y="841.7" font-size="48.5" fill="#1c1c1c" stroke="#ffffff" stroke-width="1.0" textLength="327.3" lengthAdjust="spacingAndGlyphs">Inner Diameter:</text>
<text id="t5a" x="614.5" y="925.5" font-size="45" fill="#444444" stroke="#ffffff" stroke-width="1.0">5</text>
<text id="t5b" x="674.5" y="925.5" font-size="45" fill="#444444" stroke="#ffffff" stroke-width="1.0" textLength="208.0" lengthAdjust="spacingAndGlyphs">16&quot; (8mm)</text>
<text id="t6" x="759.0" y="1340.0" font-size="48.5" fill="#0d0d0d" stroke="#ffffff" stroke-width="1.0" textLength="517.0" lengthAdjust="spacingAndGlyphs">Highly Polished Finishing</text>
<text id="t7a" x="760.2" y="1391.7" font-size="35" fill="#999999" stroke="#ffffff" stroke-width="0.45" textLength="250.5" lengthAdjust="spacingAndGlyphs">Smooth Surface</text>
<text id="t7c" x="1050.5" y="1391.7" font-size="35" fill="#999999" stroke="#ffffff" stroke-width="0.45" textLength="333.5" lengthAdjust="spacingAndGlyphs">Comfortable to Wear</text>
<text id="t8" x="191.4" y="1210.2" font-size="35" fill="#999999" stroke="#ffffff" stroke-width="0.45" textLength="184.8" lengthAdjust="spacingAndGlyphs">Clear Shiny</text>
<text id="t9" x="191.4" y="1246.8" font-size="35" fill="#999999" stroke="#ffffff" stroke-width="0.45" textLength="226.6" lengthAdjust="spacingAndGlyphs">Cubic Zirconia</text>
<path d="M1020.2,1385.6 L1024.2,1386.6 L1020,1394.6 L1017.2,1394.2 Z" fill="#999999"/>
<path d="M642.6,928.6 L669.6,891.8" stroke="#444444" stroke-width="2.6" fill="none"/>
</g>
</svg>
</body>
</html>
